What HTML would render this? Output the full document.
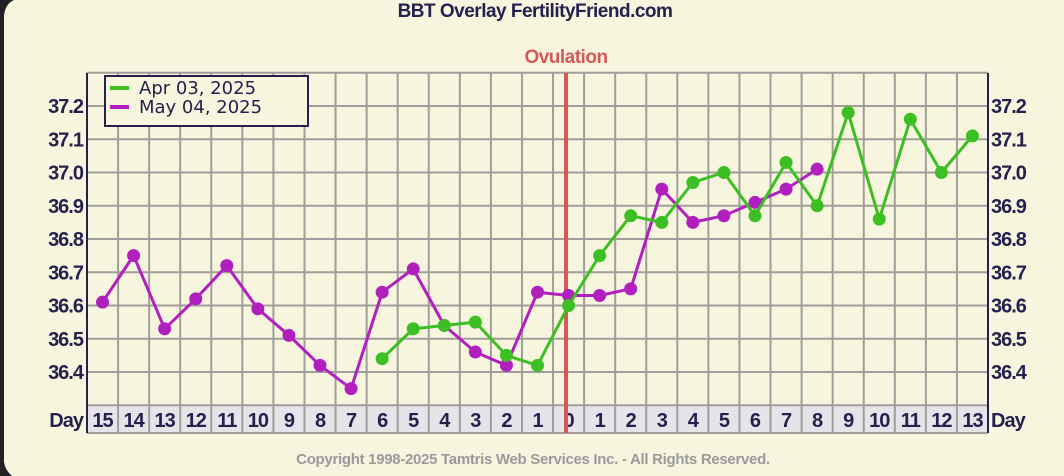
<!DOCTYPE html>
<html><head><meta charset="utf-8"><style>
html,body{margin:0;padding:0;width:1064px;height:476px;overflow:hidden;background:#f8f5df}
svg{display:block}
</style></head><body>
<svg id="s" width="1064" height="476" xmlns="http://www.w3.org/2000/svg" font-family="Liberation Sans, sans-serif">
<rect x="0" y="0" width="1064" height="476" fill="#f8f5df"/>
<path d="M0,0 L14,0 Q5,4 4,16 L4,462 Q5,470 12,476 L0,476 Z" fill="#222"/>
<text x="535" y="17" text-anchor="middle" font-size="19" font-weight="bold" fill="#25214f" letter-spacing="-0.5">BBT Overlay FertilityFriend.com</text>
<text x="566" y="63" text-anchor="middle" font-size="19" font-weight="bold" fill="#d45a5a" letter-spacing="-0.5">Ovulation</text>
<text x="533" y="464" text-anchor="middle" font-size="15" font-weight="bold" fill="#9a9a9a" letter-spacing="-0.3">Copyright 1998-2025 Tamtris Web Services Inc. - All Rights Reserved.</text>
<g id="g"></g>
</svg>
<script>
var g=document.getElementById('g'),h='';
var L=87,R=988,T=73,B=405,cw=(R-L)/29;
function y(t){return 106+(37.2-t)*332.5}
function cx(i){return L+cw*(i+0.5)}
h+='<rect x="'+L+'" y="'+B+'" width="'+(R-L)+'" height="28" fill="#e6e4e8"/>';
for(var k=0;k<=29;k++){var x=L+cw*k;h+='<line x1="'+x+'" y1="'+T+'" x2="'+x+'" y2="433" stroke="#a09e9a" stroke-width="2"/>';}
for(var t=37.3;t>36.25;t-=0.1){var yy=y(t);h+='<line x1="'+L+'" y1="'+yy+'" x2="'+R+'" y2="'+yy+'" stroke="#a09e9a" stroke-width="2"/>';}
h+='<line x1="'+L+'" y1="433" x2="'+R+'" y2="433" stroke="#a09e9a" stroke-width="2"/>';
h+='<line x1="'+L+'" y1="'+T+'" x2="'+L+'" y2="433" stroke="#25214f" stroke-width="2"/>';
h+='<line x1="'+R+'" y1="'+T+'" x2="'+R+'" y2="433" stroke="#25214f" stroke-width="2"/>';
var labs=['37.2','37.1','37.0','36.9','36.8','36.7','36.6','36.5','36.4'];
var st='font-size="20" font-weight="bold" fill="#25214f" letter-spacing="-1"';
labs.forEach(function(s,i){var yy=106+i*33.25+7;
h+='<text x="83" y="'+yy+'" text-anchor="end" '+st+'>'+s+'</text>';
h+='<text x="991" y="'+yy+'" '+st+'>'+s+'</text>';});
var days=[15,14,13,12,11,10,9,8,7,6,5,4,3,2,1,0,1,2,3,4,5,6,7,8,9,10,11,12,13];
days.forEach(function(d,i){h+='<text x="'+cx(i)+'" y="427" text-anchor="middle" '+st+'>'+d+'</text>';});
h+='<text x="83" y="427" text-anchor="end" '+st+'>Day</text>';
h+='<text x="991" y="427" '+st+'>Day</text>';
h+='<line x1="566" y1="73" x2="566" y2="433" stroke="#d45a5a" stroke-width="4"/>';
var mag=[36.61,36.75,36.53,36.62,36.72,36.59,36.51,36.42,36.35,36.64,36.71,36.54,36.46,36.42,36.64,36.63,36.63,36.65,36.95,36.85,36.87,36.91,36.95,37.01];
var grn=[36.44,36.53,36.54,36.55,36.45,36.42,36.60,36.75,36.87,36.85,36.97,37.00,36.87,37.03,36.90,37.18,36.86,37.16,37.00,37.11];
function ser(d,off,c){var p=d.map(function(v,i){return cx(i+off).toFixed(1)+','+y(v).toFixed(1)}).join(' ');
h+='<polyline points="'+p+'" fill="none" stroke="'+c+'" stroke-width="3"/>';
d.forEach(function(v,i){h+='<circle cx="'+cx(i+off)+'" cy="'+y(v)+'" r="6.5" fill="'+c+'"/>';});}
ser(mag,0,'#b21fbf');ser(grn,9,'#3cbf22');
h+='<rect x="105" y="76" width="203" height="50" fill="#f8f5df" stroke="#25214f" stroke-width="2"/>';
h+='<line x1="110" y1="88" x2="129" y2="88" stroke="#3cbf22" stroke-width="4"/>';
h+='<line x1="110" y1="107" x2="129" y2="107" stroke="#b21fbf" stroke-width="4"/>';
h+='<text x="139" y="94" font-size="18" fill="#25214f" font-family="DejaVu Sans, sans-serif">Apr 03, 2025</text>';
h+='<text x="139" y="113" font-size="18" fill="#25214f" font-family="DejaVu Sans, sans-serif">May 04, 2025</text>';
g.innerHTML=h;
</script>
</body></html>
